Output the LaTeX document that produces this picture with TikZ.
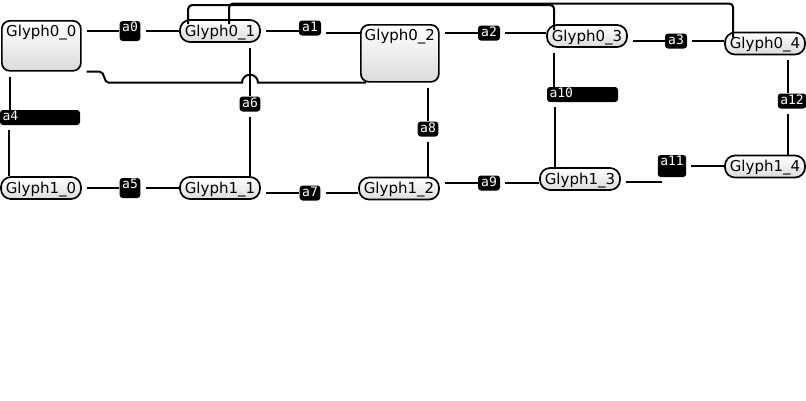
\documentclass[tikz,border=0pt]{standalone}
\usepackage{fontspec}
\newfontfamily\glyphfont{DejaVu Sans}
\newfontfamily\labfont{DejaVu Sans Mono}
\usepackage{tikz}
\usetikzlibrary{calc}
\tikzset{
  glyph/.style={draw=black, line width=1.7pt, rounded corners=10pt, top color=white, bottom color=black!14,
    font=\glyphfont\fontsize{15}{15}\selectfont, minimum width=80pt, inner xsep=2pt, inner ysep=3pt,
    text height=13pt, text depth=3pt},
  bigglyph/.style={glyph, rounded corners=8pt, anchor=north west},
  lbl/.style={fill=black, rounded corners=3pt, text=white, font=\labfont\fontsize{13}{13}\selectfont,
    inner xsep=2.5pt, inner ysep=1.5pt, text height=9pt, text depth=3pt, minimum width=22pt, align=center},
  widelbl/.style={lbl, align=left},
  wire/.style={line width=2pt, shorten <=5pt},
  topwire/.style={wire, shorten <=-5pt, shorten >=-6pt, rounded corners=4pt}
}
\begin{document}
\begin{tikzpicture}[x=1pt,y=-1pt]
          \useasboundingbox (0,0) rectangle (806,400);
          \node[bigglyph, minimum width=79pt, text depth=31pt] (G00) at (1,20) {Glyph0\_0};
          \node[glyph] (G01) at (220,31) {Glyph0\_1};
          \node[bigglyph, minimum width=78pt, text depth=38pt] (G02) at (360,24) {Glyph0\_2};
          \node[glyph] (G03) at (587,36) {Glyph0\_3};
          \node[glyph] (G04) at (765,43.5) {Glyph0\_4};
          \node[glyph] (G10) at (41,188) {Glyph1\_0};
          \node[glyph] (G11) at (220,188) {Glyph1\_1};
          \node[glyph] (G12) at (399,188.5) {Glyph1\_2};
          \node[glyph] (G13) at (580,179) {Glyph1\_3};
          \node[glyph] (G14) at (765,166.5) {Glyph1\_4};

          \node[lbl, minimum width=20pt, text depth=8pt] (a0) at (130,31) {a0};
          \node[lbl] (a1) at (310,28) {a1};
          \node[lbl] (a2) at (489,33) {a2};
          \node[lbl] (a3) at (676,41) {a3};
          \node[widelbl, text width=75pt] (a4) at (40,117.5) {a4};
          \node[lbl, minimum width=20pt, text depth=8pt] (a5) at (130,188) {a5};
          \node[lbl, minimum width=20pt] (a6) at (250,104) {a6};
          \node[lbl, minimum width=20pt] (a7) at (310,193) {a7};
          \node[lbl, minimum width=20pt] (a8) at (428,129) {a8};
          \node[lbl] (a9) at (489,183) {a9};
          \node[widelbl, text width=66pt] (a10) at (582.5,94.5) {a10};
          \node[lbl, minimum width=28pt, text depth=10pt] (a11) at (672,166) {a11};
          \node[lbl, minimum width=28pt] (a12) at (792,101) {a12};

          \coordinate (rail) at (0,5);
          \coordinate (rail2) at (0,3.5);

          \draw[wire] (a0.west -| G00.east) -- (a0.west);
          \draw[wire] (a0.east) -- (a0.east -| G01.west);
          \draw[wire] (G01.east) -- (G01.east -| a1.west);
          \draw[wire] ([yshift=-5pt]a1.east) -- ([yshift=-5pt]a1.east -| G02.west);
          \draw[wire] (a2.west -| G02.east) -- (a2.west);
          \draw[wire] (a2.east) -- (a2.east -| G03.west);
          \draw[wire] (a3.west -| G03.east) -- (a3.west);
          \draw[wire] (a3.east) -- (a3.east -| G04.west);
          \draw[topwire] ([xshift=9pt]G01.north west) -- ([xshift=9pt]G01.north west |- rail)
            -- ([xshift=8pt]G03.north west |- rail) -- ([xshift=8pt]G03.north west);
          \draw[topwire] ([xshift=50pt]G01.north west) -- ([xshift=50pt]G01.north west |- rail2)
            -- ([xshift=9pt]G04.north west |- rail2) -- ([xshift=9pt]G04.north west);
          \draw[wire] (G00.south east) -- ++(18,0) to[out=0,in=180] ++(9,11)
            -- ([xshift=-8pt]a6.north |- G02.south) arc[start angle=180, end angle=0, radius=8pt]
            -- ([xshift=6pt]G02.south west);
          \draw[wire] ([xshift=9pt]G00.south west) -- ([xshift=9pt]G00.south west |- a4.north);
          \draw[wire] ([xshift=9pt]a4.south west) -- ([xshift=9pt]a4.south west |- G10.north);
          \draw[wire] (G10.east) -- (G10.east -| a5.west);
          \draw[wire] (a5.east) -- (a5.east -| G11.west);
          \draw[wire] (a6.north |- G01.south) -- (a6.north);
          \draw[wire] (a6.south) -- (a6.south |- G11.north);
          \draw[wire] (a7.west -| G11.east) -- (a7.west);
          \draw[wire] (a7.east) -- (a7.east -| G12.west);
          \draw[wire] (a8.north |- G02.south) -- (a8.north);
          \draw[wire] (a8.south) -- (a8.south |- G12.north);
          \draw[wire] (a9.west -| G12.east) -- (a9.west);
          \draw[wire] (a9.east) -- (a9.east -| G13.west);
          \draw[wire] ([xshift=8pt]G03.south west) -- ([xshift=8pt]G03.south west |- a10.north);
          \draw[wire] ([xshift=8pt]a10.south west) -- ([xshift=8pt]a10.south west |- G13.north);
          \draw[wire, shorten >=-4pt] ([yshift=-3pt]G13.east) -- ([yshift=-3pt]G13.east -| a11.west);
          \draw[wire] (a11.east) -- (a11.east -| G14.west);
          \draw[wire] ([xshift=-4pt]a12.north |- G04.south) -- ([xshift=-4pt]a12.north);
          \draw[wire] ([xshift=-4pt]a12.south) -- ([xshift=-4pt]a12.south |- G14.north);
        \end{tikzpicture}
\end{document}
